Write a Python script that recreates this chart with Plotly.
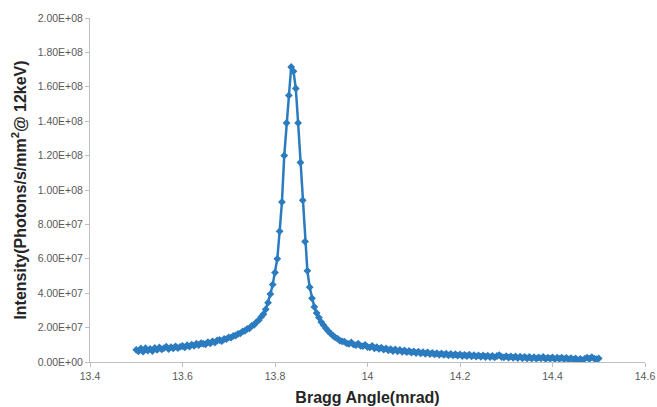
import plotly.graph_objects as go

# Rocking-curve scan: Bragg angle (mrad) and measured intensity (units of 1e6 photons/s/mm^2 @ 12 keV)
bragg_angle = [
    13.500, 13.505, 13.510, 13.515, 13.520, 13.525, 13.530, 13.535, 13.540, 13.545,
    13.550, 13.555, 13.560, 13.565, 13.570, 13.575, 13.580, 13.585, 13.590, 13.595,
    13.600, 13.605, 13.610, 13.615, 13.620, 13.625, 13.630, 13.635, 13.640, 13.645,
    13.650, 13.655, 13.660, 13.665, 13.670, 13.675, 13.680, 13.685, 13.690, 13.695,
    13.700, 13.705, 13.710, 13.715, 13.720, 13.725, 13.730, 13.735, 13.740, 13.745,
    13.750, 13.755, 13.760, 13.765, 13.770, 13.775, 13.780, 13.785, 13.790, 13.795,
    13.800, 13.805, 13.810, 13.815, 13.820, 13.825, 13.830, 13.835, 13.840, 13.845,
    13.850, 13.855, 13.860, 13.865, 13.870, 13.875, 13.880, 13.885, 13.890, 13.895,
    13.900, 13.905, 13.910, 13.915, 13.920, 13.925, 13.930, 13.935, 13.940, 13.945,
    13.950, 13.955, 13.960, 13.965, 13.970, 13.975, 13.980, 13.985, 13.990, 13.995,
    14.000, 14.005, 14.010, 14.015, 14.020, 14.025, 14.030, 14.035, 14.040, 14.045,
    14.050, 14.055, 14.060, 14.065, 14.070, 14.075, 14.080, 14.085, 14.090, 14.095,
    14.100, 14.105, 14.110, 14.115, 14.120, 14.125, 14.130, 14.135, 14.140, 14.145,
    14.150, 14.155, 14.160, 14.165, 14.170, 14.175, 14.180, 14.185, 14.190, 14.195,
    14.200, 14.205, 14.210, 14.215, 14.220, 14.225, 14.230, 14.235, 14.240, 14.245,
    14.250, 14.255, 14.260, 14.265, 14.270, 14.275, 14.280, 14.285, 14.290, 14.295,
    14.300, 14.305, 14.310, 14.315, 14.320, 14.325, 14.330, 14.335, 14.340, 14.345,
    14.350, 14.355, 14.360, 14.365, 14.370, 14.375, 14.380, 14.385, 14.390, 14.395,
    14.400, 14.405, 14.410, 14.415, 14.420, 14.425, 14.430, 14.435, 14.440, 14.445,
    14.450, 14.455, 14.460, 14.465, 14.470, 14.475, 14.480, 14.485, 14.490, 14.495,
    14.500,
]

intensity_e6 = [
    7.1, 6.2, 7.9, 6.0, 8.0, 6.7, 7.6, 6.4, 8.2, 7.0,
    8.5, 7.3, 8.1, 8.9, 7.5, 8.7, 7.9, 9.1, 8.1, 8.8,
    9.3, 8.5, 9.8, 9.0, 10.1, 9.4, 10.6, 9.8, 10.9, 10.6,
    10.3, 11.6, 10.8, 12.0, 11.3, 12.5, 12.8, 12.1, 13.4, 13.3,
    14.3, 14.2, 15.2, 15.4, 16.3, 16.6, 17.8, 18.1, 19.3, 19.6,
    21.1, 21.6, 23.2, 24.3, 26.2, 27.8, 30.6, 34.5, 39.5, 45.0,
    52.0, 60.0, 76.0, 93.0, 120.0, 139.0, 155.0, 171.5, 169.0, 159.0,
    139.0, 116.0, 94.0, 70.0, 53.0, 43.5, 37.0, 32.0, 28.5, 25.8,
    23.2, 21.4, 19.6, 18.0, 16.6, 15.4, 14.3, 13.6, 12.5, 12.0,
    11.9, 10.8, 10.5, 11.4, 10.1, 9.8, 10.6, 9.4, 9.2, 10.0,
    8.7, 8.5, 9.3, 8.0, 8.7, 7.6, 8.3, 7.2, 7.9, 6.8,
    7.5, 6.4, 7.3, 6.2, 7.0, 5.9, 6.7, 5.7, 6.4, 5.5,
    6.2, 5.2, 6.0, 5.0, 5.7, 4.8, 5.6, 4.6, 5.3, 4.4,
    5.1, 4.2, 5.0, 4.1, 4.8, 3.9, 4.7, 3.8, 4.5, 3.7,
    4.4, 3.5, 4.2, 3.4, 4.3, 3.3, 4.0, 3.2, 3.9, 3.0,
    3.8, 2.9, 3.7, 2.8, 3.6, 2.7, 3.5, 4.0, 2.9, 2.7,
    3.4, 2.5, 3.3, 2.4, 3.2, 2.3, 3.1, 2.2, 3.0, 2.1,
    2.9, 2.0, 2.8, 1.9, 2.7, 2.1, 2.9, 1.8, 2.6, 1.9,
    2.7, 1.7, 2.5, 1.8, 2.6, 1.6, 2.4, 1.5, 2.3, 1.4,
    2.1, 1.1, 1.8, 0.9, 2.0, 2.5, 1.8, 2.8, 2.0, 1.7,
    2.1,
]

x_ticks = [13.4, 13.6, 13.8, 14.0, 14.2, 14.4, 14.6]
x_tick_text = ["13.4", "13.6", "13.8", "14", "14.2", "14.4", "14.6"]
y_ticks = [0, 2e7, 4e7, 6e7, 8e7, 1e8, 1.2e8, 1.4e8, 1.6e8, 1.8e8, 2e8]
y_tick_text = ["0.00E+00", "2.00E+07", "4.00E+07", "6.00E+07", "8.00E+07", "1.00E+08",
               "1.20E+08", "1.40E+08", "1.60E+08", "1.80E+08", "2.00E+08"]

intensity = [v * 1e6 for v in intensity_e6]

SERIES_BLUE = "#2B7BBF"
AXIS_GREY = "#BFBFBF"
LABEL_GREY = "#595959"
TITLE_DARK = "#262626"

fig = go.Figure(
    go.Scatter(
        x=bragg_angle,
        y=intensity,
        mode="lines+markers",
        line=dict(color=SERIES_BLUE, width=2.5),
        marker=dict(symbol="diamond", size=6, color=SERIES_BLUE),
        showlegend=False,
    )
)

fig.update_layout(
    width=657,
    height=407,
    margin=dict(l=90, r=12, t=18, b=45),
    paper_bgcolor="white",
    plot_bgcolor="white",
    font=dict(family="Liberation Sans, Arial, sans-serif", color=LABEL_GREY),
)

fig.update_xaxes(
    range=[13.4, 14.6],
    tickvals=x_ticks,
    ticktext=x_tick_text,
    tickfont=dict(size=10.5, color=LABEL_GREY),
    showgrid=False,
    zeroline=False,
    showline=True,
    linecolor=AXIS_GREY,
    linewidth=1,
    ticks="outside",
    ticklen=4,
    tickcolor=AXIS_GREY,
    automargin=False,
    title=dict(
        text="<b>Bragg Angle(mrad)</b>",
        font=dict(size=16, color=TITLE_DARK),
        standoff=11,
    ),
)

fig.update_yaxes(
    range=[0, 2e8],
    tickvals=y_ticks,
    ticktext=y_tick_text,
    tickfont=dict(size=10.5, color=LABEL_GREY),
    showgrid=False,
    zeroline=False,
    showline=True,
    linecolor=AXIS_GREY,
    linewidth=1,
    ticks="outside",
    ticklen=4,
    tickcolor=AXIS_GREY,
    automargin=False,
    title=dict(
        text="<b>Intensity(Photons/s/mm<sup>2</sup>@ 12keV)</b>",
        font=dict(size=16, color=TITLE_DARK),
        standoff=7,
    ),
)

fig.write_html("out.html")
